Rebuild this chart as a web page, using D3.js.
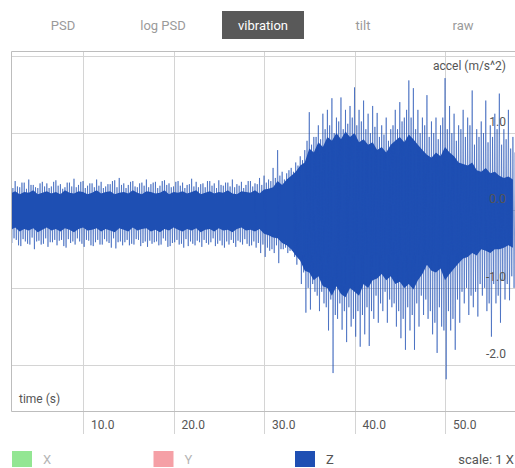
<!DOCTYPE html>
<html>
<head>
    <meta charset="utf-8" />
    <title>vibration</title>
    <style>
    	body { margin: 0; background: #fff; }
    	text { font-family: Roboto, "Noto Sans", sans-serif; }
    </style>
</head>
<body>
<script src="https://d3js.org/d3.v7.min.js"></script>
<script>

	var tabs = ["PSD", "log PSD", "vibration", "tilt", "raw"];
	var activeTab = "vibration";
	var xTicks = [10, 20, 30, 40, 50];
	var yTicks = [-2, -1, 0, 1, 2];
	var yLabelTicks = [-2, -1, 0, 1];
	var legendNames = ["X", "Y", "Z"];
	var legendColors = ["#93e693", "#f5a0a6", "#1f4fb3"];

	// spike extremes, one pair every 0.25 s starting at t = 2.0
	var peakStart = 2.0, peakStep = 0.25;
	var peakHi = [0.34,0.29,0.38,0.31,0.30,0.36,0.36,0.28,0.40,0.33,
				  0.33,0.30,0.29,0.35,0.37,0.31,0.35,0.29,0.31,0.37,
				  0.39,0.32,0.34,0.28,0.30,0.36,0.36,0.31,0.41,0.30,
				  0.33,0.37,0.38,0.29,0.32,0.35,0.35,0.30,0.40,0.32,
				  0.37,0.29,0.31,0.34,0.34,0.38,0.39,0.30,0.42,0.33,
				  0.35,0.29,0.33,0.37,0.38,0.31,0.30,0.35,0.36,0.32,
				  0.40,0.30,0.34,0.36,0.37,0.29,0.32,0.38,0.39,0.33,
				  0.35,0.30,0.31,0.37,0.38,0.32,0.36,0.29,0.33,0.34,
				  0.41,0.31,0.37,0.30,0.34,0.35,0.30,0.38,0.38,0.32,
				  0.35,0.29,0.39,0.33,0.32,0.36,0.36,0.31,0.40,0.30,
				  0.34,0.32,0.37,0.29,0.33,0.38,0.38,0.31,0.35,0.34,
				  0.42,0.33,0.45,0.36,0.40,0.38,
				  0.55,0.42,0.78,0.45,0.50,0.40,0.48,0.52,0.55,0.50,
				  0.62,0.58,0.70,0.65,0.78,0.90,1.27,0.85,0.95,0.95,
				  1.10,0.92,1.25,1.05,1.30,1.10,1.45,1.00,1.20,1.15,
				  1.46,1.05,1.30,1.12,1.35,1.20,1.59,1.10,1.30,1.15,
				  1.42,1.05,1.25,1.00,1.35,1.08,1.26,0.95,1.10,0.98,
				  1.20,0.90,1.05,1.10,1.30,1.05,1.40,1.15,1.20,1.30,
				  1.68,1.20,1.58,1.05,1.30,1.00,1.20,1.10,1.49,0.95,
				  1.15,1.00,1.20,0.92,1.10,1.20,1.71,1.05,1.35,1.00,
				  1.25,0.90,1.10,1.05,1.30,0.95,1.20,1.10,1.55,0.85,
				  1.05,0.95,1.15,1.00,1.42,0.88,1.10,0.95,1.25,1.05,
				  1.51,0.85,1.05,0.92,1.30,0.80,0.95,0.75];
	var peakLo = [-0.42,-0.36,-0.38,-0.45,-0.46,-0.37,-0.40,-0.43,-0.44,-0.35,
				  -0.50,-0.40,-0.39,-0.44,-0.43,-0.36,-0.47,-0.41,-0.41,-0.38,
				  -0.45,-0.39,-0.38,-0.46,-0.48,-0.37,-0.42,-0.40,-0.44,-0.36,
				  -0.40,-0.43,-0.47,-0.38,-0.39,-0.45,-0.46,-0.41,-0.38,-0.44,
				  -0.44,-0.37,-0.40,-0.42,-0.48,-0.36,-0.49,-0.41,-0.40,-0.45,
				  -0.41,-0.38,-0.45,-0.43,-0.44,-0.37,-0.38,-0.46,-0.42,-0.40,
				  -0.47,-0.39,-0.43,-0.41,-0.40,-0.45,-0.44,-0.36,-0.39,-0.47,
				  -0.46,-0.42,-0.41,-0.38,-0.44,-0.43,-0.48,-0.37,-0.46,-0.40,
				  -0.43,-0.45,-0.39,-0.41,-0.47,-0.38,-0.42,-0.44,-0.41,-0.36,
				  -0.46,-0.43,-0.39,-0.45,-0.48,-0.40,-0.44,-0.38,-0.42,-0.47,
				  -0.39,-0.41,-0.44,-0.37,-0.43,-0.46,-0.45,-0.40,-0.48,-0.42,
				  -0.55,-0.44,-0.60,-0.48,-0.52,-0.50,
				  -0.55,-0.45,-0.68,-0.50,-0.50,-0.48,-0.55,-0.52,-0.52,-0.60,
				  -0.70,-0.62,-0.95,-0.80,-1.32,-1.00,-1.28,-0.95,-1.05,-1.10,
				  -1.30,-1.05,-1.20,-1.25,-1.55,-1.15,-2.10,-1.35,-1.40,-1.20,
				  -1.54,-1.30,-1.70,-1.25,-1.50,-1.40,-1.63,-1.30,-1.76,-1.35,
				  -1.60,-1.25,-1.75,-1.30,-1.40,-1.10,-1.45,-1.20,-1.30,-1.05,
				  -1.45,-1.15,-1.25,-1.20,-1.50,-1.30,-1.65,-1.40,-1.80,-1.25,
				  -1.55,-1.35,-1.80,-1.20,-1.50,-1.10,-1.35,-1.15,-1.40,-1.30,
				  -1.60,-1.45,-1.84,-1.25,-1.50,-1.55,-2.18,-1.30,-1.55,-1.40,
				  -1.80,-1.15,-1.45,-1.05,-1.20,-1.00,-1.35,-1.10,-1.25,-1.05,
				  -1.37,-0.95,-1.10,-1.00,-1.30,-1.20,-1.63,-0.95,-1.20,-1.10,
				  -1.45,-0.90,-1.15,-0.95,-1.16,-0.85,-1.00,-0.80];

	// dense core band, one pair every 0.5 s starting at t = 2.0
	var coreStart = 2.0, coreStep = 0.5;
	var coreHi = [0.22,0.25,0.21,0.24,0.23,0.26,0.21,0.23,0.25,0.22,
				  0.24,0.21,0.26,0.23,0.22,0.25,0.24,0.21,0.23,0.26,
				  0.22,0.24,0.25,0.21,0.23,0.24,0.22,0.26,0.23,0.21,
				  0.25,0.24,0.22,0.23,0.26,0.21,0.24,0.23,0.25,0.22,
				  0.24,0.26,0.21,0.23,0.25,0.22,0.24,0.23,0.26,0.22,
				  0.21,0.25,0.24,0.23,0.26,0.22,0.27,0.28,
				  0.30,0.38,0.33,0.40,0.45,0.50,0.58,0.62,0.80,0.75,
				  0.88,0.82,0.95,0.90,1.00,0.92,1.02,0.95,1.00,0.88,
				  0.92,0.85,0.88,0.78,0.82,0.75,0.85,0.90,0.95,0.88,
				  0.98,0.92,0.85,0.78,0.72,0.68,0.75,0.70,0.82,0.75,
				  0.70,0.62,0.60,0.58,0.62,0.52,0.50,0.55,0.48,0.50,
				  0.45,0.42,0.44,0.40];
	var coreLo = [-0.25,-0.22,-0.27,-0.24,-0.26,-0.23,-0.28,-0.25,-0.22,-0.26,
				  -0.24,-0.27,-0.23,-0.25,-0.28,-0.24,-0.22,-0.26,-0.25,-0.23,
				  -0.27,-0.24,-0.26,-0.28,-0.23,-0.25,-0.27,-0.22,-0.26,-0.24,
				  -0.23,-0.27,-0.25,-0.28,-0.24,-0.26,-0.22,-0.25,-0.27,-0.24,
				  -0.26,-0.23,-0.28,-0.25,-0.24,-0.27,-0.23,-0.26,-0.25,-0.28,
				  -0.24,-0.22,-0.26,-0.25,-0.27,-0.24,-0.30,-0.32,
				  -0.35,-0.36,-0.42,-0.45,-0.50,-0.58,-0.65,-0.78,-0.80,-0.90,
				  -0.85,-0.98,-1.00,-1.10,-0.98,-1.08,-1.12,-1.00,-1.05,-1.10,
				  -0.95,-1.00,-0.90,-0.88,-0.82,-0.90,-0.85,-0.95,-0.92,-1.00,
				  -0.95,-1.02,-0.90,-0.82,-0.70,-0.78,-0.80,-0.75,-0.90,-0.82,
				  -0.75,-0.68,-0.62,-0.60,-0.55,-0.58,-0.50,-0.52,-0.55,-0.50,
				  -0.50,-0.48,-0.45,-0.48];

	var width = 515;
	var height = 468;
	var plot = {"left":11, "right":515, "top":51, "bottom":411};
	var blue = "#1f4fb3";

	var svg = d3.select("body").append("svg")
				.attr("width", width)
				.attr("height", height);

	var xScaler = d3.scaleLinear()
					.domain([2.04, 57.73])
					.range([plot.left, plot.right]);

	var yScaler = d3.scaleLinear()
					.domain([-2.59, 2.06])
					.range([plot.bottom, plot.top]);

	// tabs
	var tabScaler = d3.scalePoint()
					  .domain(tabs)
					  .range([63, 463]);

	var tab = svg.append("g").selectAll("g")
				 .data(tabs)
				 .enter()
				 .append("g")
				 .attr("transform", d => "translate(" + tabScaler(d) + ",25)");

	tab.filter(d => d == activeTab)
	   .append("rect")
	   .attr("x", -41)
	   .attr("y", -14)
	   .attr("width", 82)
	   .attr("height", 28)
	   .attr("fill", "#595959");

	tab.append("text")
	   .attr("text-anchor", "middle")
	   .attr("dy", "0.35em")
	   .style("font-size", "13px")
	   .attr("fill", d => d == activeTab ? "#fff" : "#9a9a9a")
	   .text(d => d);

	// grid
	var grid = svg.append("g")
				  .attr("stroke", "#d4d4d4")
				  .attr("stroke-width", 1);

	grid.selectAll("line.v")
		.data(xTicks)
		.enter()
		.append("line")
		.attr("class", "v")
		.attr("x1", d => Math.round(xScaler(d)) + 0.5)
		.attr("x2", d => Math.round(xScaler(d)) + 0.5)
		.attr("y1", plot.top)
		.attr("y2", plot.bottom + 23);

	grid.selectAll("line.h")
		.data(yTicks)
		.enter()
		.append("line")
		.attr("class", "h")
		.attr("x1", plot.left)
		.attr("x2", plot.right)
		.attr("y1", d => Math.round(yScaler(d)) + 0.5)
		.attr("y2", d => Math.round(yScaler(d)) + 0.5);

	svg.append("path")
	   .attr("d", "M" + (plot.right) + "," + (plot.top + 0.5) + "H" + (plot.left + 0.5) + "V" + (plot.bottom + 0.5) + "H" + plot.right)
	   .attr("fill", "none")
	   .attr("stroke", "#bdbdbd");

	// signal
	var coreData = coreHi.map((v, i) => ({"t": coreStart + i * coreStep, "hi": v, "lo": coreLo[i]}));

	svg.append("clipPath").attr("id", "plotclip")
	   .append("rect")
	   .attr("x", plot.left + 1)
	   .attr("y", plot.top + 1)
	   .attr("width", plot.right - plot.left)
	   .attr("height", plot.bottom - plot.top - 1);

	var signal = svg.append("g").attr("clip-path", "url(#plotclip)");

	signal.append("path")
		  .datum(coreData)
		  .attr("fill", blue)
		  .attr("d", d3.area()
		  			   .x(d => xScaler(d.t))
		  			   .y0(d => yScaler(d.lo))
		  			   .y1(d => yScaler(d.hi)));

	var zig = [];
	peakHi.forEach(function(v, i) {
		var t = peakStart + i * peakStep;
		zig.push([t, v]);
		zig.push([t + peakStep / 2, peakLo[i]]);
	});

	signal.append("path")
		  .datum(zig)
		  .attr("fill", "none")
		  .attr("stroke", blue)
		  .attr("stroke-width", 0.8)
		  .attr("stroke-opacity", 0.7)
		  .attr("d", d3.line()
		  			   .x(d => xScaler(d[0]))
		  			   .y(d => yScaler(d[1])));

	// axis labels
	svg.append("g").selectAll("text")
	   .data(xTicks)
	   .enter()
	   .append("text")
	   .attr("x", d => xScaler(d) + 8)
	   .attr("y", plot.bottom + 18)
	   .attr("fill", "#555")
	   .style("font-size", "12px")
	   .text(d => d.toFixed(1));

	svg.append("g").selectAll("text")
	   .data(yLabelTicks)
	   .enter()
	   .append("text")
	   .attr("x", 506)
	   .attr("y", d => yScaler(d) - 7)
	   .attr("text-anchor", "end")
	   .attr("fill", "#555")
	   .style("font-size", "12px")
	   .text(d => d.toFixed(1));

	svg.append("text")
	   .attr("x", 506)
	   .attr("y", 70)
	   .attr("text-anchor", "end")
	   .attr("fill", "#555")
	   .style("font-size", "12px")
	   .text("accel (m/s^2)");

	svg.append("text")
	   .attr("x", 19)
	   .attr("y", 403)
	   .attr("fill", "#555")
	   .style("font-size", "12px")
	   .text("time (s)");

	// legend
	var legendScaler = d3.scalePoint()
						 .domain(legendNames)
						 .range([12, 295]);

	var legend = svg.append("g").selectAll("g")
					.data(legendNames)
					.enter()
					.append("g")
					.attr("transform", d => "translate(" + legendScaler(d) + ",451)");

	legend.append("rect")
		  .attr("width", 20)
		  .attr("height", 16)
		  .attr("fill", (d, i) => legendColors[i]);

	legend.append("text")
		  .attr("x", 31)
		  .attr("y", 13)
		  .style("font-size", "13px")
		  .attr("fill", d => d == "Z" ? "#555" : "#b5b5b5")
		  .text(d => d);

	svg.append("text")
	   .attr("x", 514)
	   .attr("y", 464)
	   .attr("text-anchor", "end")
	   .attr("fill", "#555")
	   .style("font-size", "13px")
	   .text("scale: 1 X");

</script>
</body>
</html>
